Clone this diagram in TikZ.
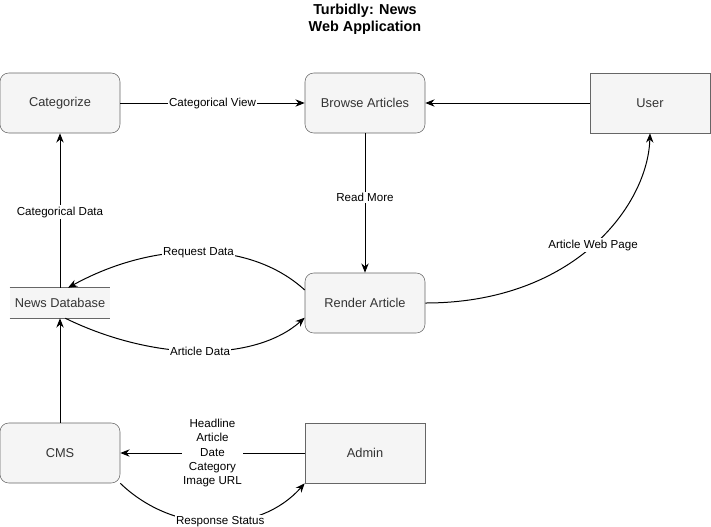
\documentclass[tikz,border=0pt]{standalone}
\usepackage{fontspec}
\setmainfont{Liberation Sans}
\usetikzlibrary{arrows.meta}
\definecolor{boxfill}{HTML}{F5F5F5}
\definecolor{boxline}{HTML}{666666}
\definecolor{boxtext}{HTML}{333333}
\begin{document}
\begin{tikzpicture}[x=0.75pt,y=-0.75pt,
  box/.style={draw=boxline,fill=boxfill,text=boxtext,minimum width=90pt,minimum height=45pt,inner sep=0pt,font=\fontsize{9.6}{11}\selectfont},
  rbox/.style={box,rounded corners=6.5pt},
  arr/.style={-{Stealth[length=7pt,width=5.5pt]},line width=0.75pt},
  lbl/.style={fill=white,inner sep=1pt,font=\fontsize{8.7}{10.7}\selectfont,text=black}]
\useasboundingbox (0,0) rectangle (711,526);
\node[font=\bfseries\fontsize{10.8}{12.8}\selectfont,align=center] (title) at (365,19) {Turbidly: News\\Web Application};
\node[rbox] (cat) at (60,103) {Categorize};
\node[rbox] (browse) at (365,103) {Browse Articles};
\node[box] (user) at (650,103) {User};
\node[fill=boxfill,text=boxtext,minimum width=75pt,minimum height=22.5pt,inner sep=0pt,font=\fontsize{9.6}{11}\selectfont] (db) at (60,303) {News Database};
\draw[boxline,line width=0.75pt] (db.north west) -- (db.north east) (db.south west) -- (db.south east);
\node[rbox] (render) at (365,303) {Render Article};
\node[rbox] (cms) at (60,453) {CMS};
\node[box] (admin) at (365,453) {Admin};

\draw[arr] (cat) -- node[lbl] {Categorical View} (browse);
\draw[arr] (user) -- (browse);
\draw[arr] (browse) -- node[lbl,pos=0.46] {Read More} (render);
\draw[arr] (db) -- node[lbl,pos=0.49] {Categorical Data} (cat);
\draw[arr] (cms) -- (db);
\draw[arr] (admin) -- node[lbl,align=center,pos=0.5] {Headline\\Article\\Date\\Category\\Image URL} (cms);
\draw[arr] ([yshift=9.75pt]render.west) .. controls (250,240) and (155,240) .. node[lbl] {Request Data} ([xshift=6pt]db.north);
\draw[arr] ([xshift=4pt]db.south) .. controls (155,362) and (255,362) .. node[lbl] {Article Data} ([yshift=-11pt]render.west);
\draw[arr] (render.east) .. controls (575,303) and (648,205) .. node[lbl,pos=0.5] {Article Web Page} (user.south);
\draw[arr] (cms.south east) .. controls (175,536) and (260,534) .. node[lbl,pos=0.52] {Response Status} (admin.south west);
\end{tikzpicture}
\end{document}
